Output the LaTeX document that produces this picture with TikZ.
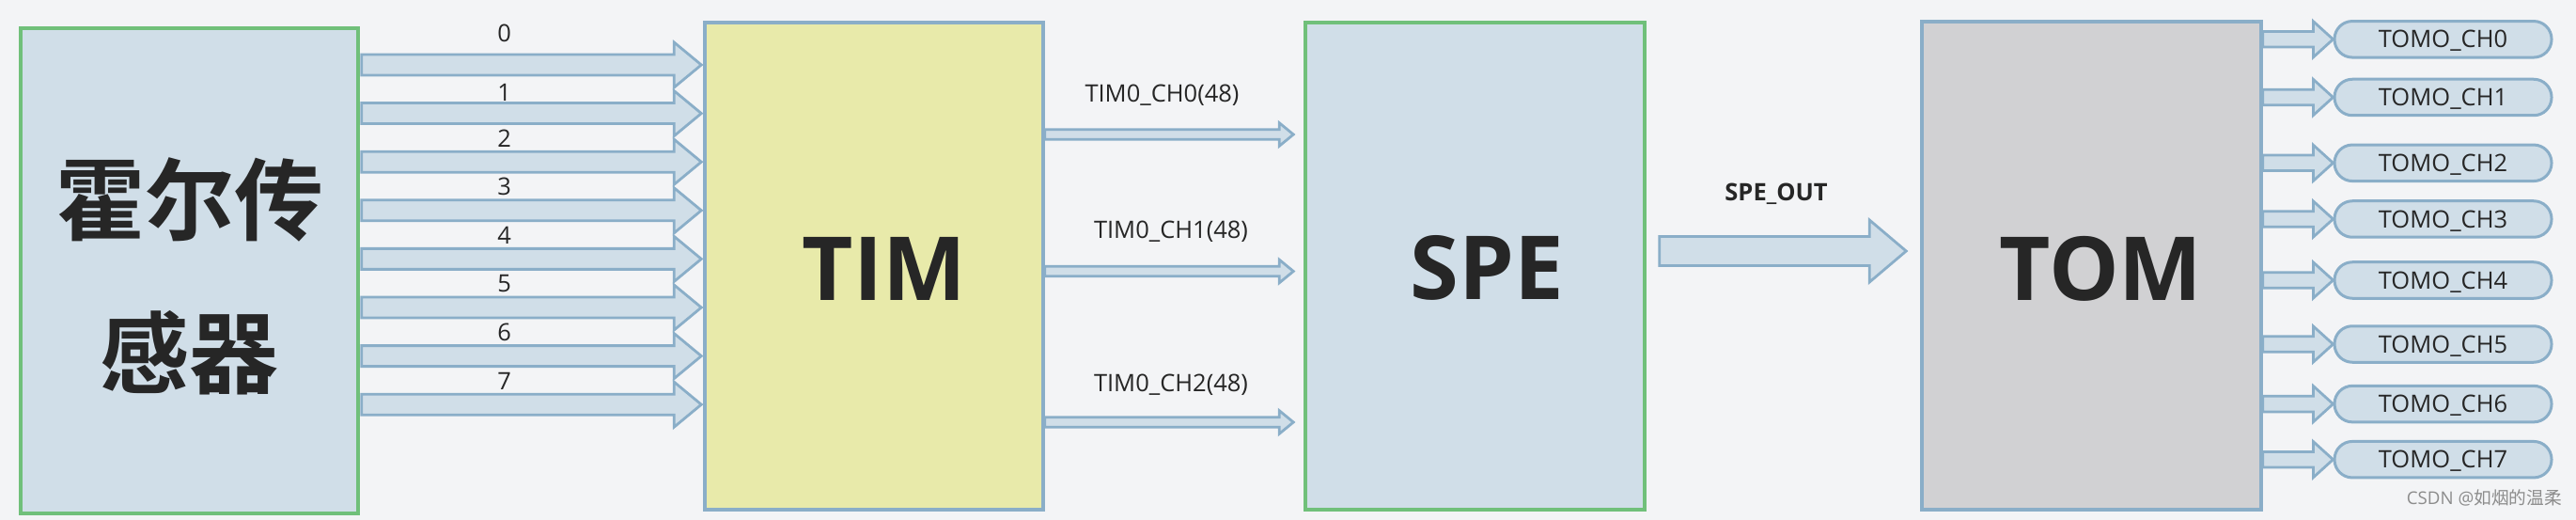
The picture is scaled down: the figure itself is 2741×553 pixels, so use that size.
\documentclass[tikz,border=0pt]{standalone}
\usepackage{fontspec}
\setmainfont{Open Sans}
\newfontfamily\cjk{Noto Sans CJK SC}[BoldFont={Noto Sans CJK SC Bold}]
\usetikzlibrary{calc}

\definecolor{bgcol}{RGB}{243,244,246}
\definecolor{boxblue}{RGB}{208,222,232}
\definecolor{lineblue}{RGB}{138,174,200}
\definecolor{boxgreen}{RGB}{112,192,122}
\definecolor{boxyellow}{RGB}{232,234,170}
\definecolor{boxgray}{RGB}{209,209,211}
\definecolor{textdark}{RGB}{38,38,38}
\definecolor{markgray}{RGB}{140,140,140}

\newcommand{\fatarrow}[5]{%
  \filldraw[arrowline] ($(#1)+(0,-#3)$) -- ($(#2)+(-#5,-#3)$) -- ($(#2)+(-#5,-#4)$) -- (#2)
    -- ($(#2)+(-#5,#4)$) -- ($(#2)+(-#5,#3)$) -- ($(#1)+(0,#3)$) -- cycle;}

\begin{document}
\begin{tikzpicture}[x=1pt, y=-1pt,
  box/.style={draw=lineblue, line width=3.5pt, inner sep=0pt},
  arrowline/.style={draw=lineblue, fill=boxblue, line width=2.8pt, line join=miter},
  chbox/.style={draw=lineblue, fill=boxblue, line width=3pt, rounded corners=19pt, minimum width=231pt, minimum height=38.5pt, text height=18.3pt, text depth=0pt, font=\fontsize{25.5}{30}\selectfont, text=textdark},
  bus/.style={font=\fontsize{25.5}{30}\selectfont, text=textdark, inner sep=0pt},
  big/.style={font=\fontsize{94}{94}\selectfont\bfseries, text=textdark, inner sep=0pt}]
  \fill[bgcol] (0,0) rectangle (2741,553);

  \node[box, draw=boxgreen, fill=boxblue, minimum width=359pt, minimum height=516pt] (sensor) at (201.5,288) {};
  \node[box, fill=boxyellow, minimum width=360pt, minimum height=518pt] (tim) at (930,283) {};
  \node[box, draw=boxgreen, fill=boxblue, minimum width=361pt, minimum height=518pt] (spe) at (1569.5,283) {};
  \node[box, fill=boxgray, minimum width=361pt, minimum height=519pt] (tom) at (2225.5,282.5) {};

  \node[font=\cjk\bfseries\fontsize{95}{163}\selectfont, text=textdark, align=center, inner sep=0pt] (sensorname) at (201.5,293.5) {霍尔传\\感器};
  \node[big] (timname) at (941,286) {TIM};
  \node[big] (spename) at (1582,285) {SPE};
  \node[big] (tomname) at (2235.5,286) {TOM};

  \foreach \i/\ly in {0/35.7,1/98,2/147,3/198,4/250,5/302,6/353.6,7/405}{
    \pgfmathsetmacro\y{69+51.6*\i}
    \coordinate (s\i) at ($(sensor.east |- 0,\y)+(2,0)$);
    \coordinate (t\i) at ($(tim.west |- 0,\y)+(-2,0)$);
    \fatarrow{s\i}{t\i}{11}{24}{29}
    \node[bus] (in\i) at (536.7,\ly) {\i};
  }

  \foreach \i/\y/\lx/\ly in {0/143/1236.5/109,1/288.5/1246/254,2/449/1246/416}{
    \coordinate (a\i) at (tim.east |- 0,\y);
    \coordinate (b\i) at ($(spe.west |- 0,\y)+(-11,0)$);
    \fatarrow{a\i}{b\i}{5.3}{12.3}{15}
    \node[bus, anchor=base] (ch\i) at (\lx,\ly) {TIM0\_CH\i(48)};
  }

  \coordinate (o1) at ($(spe.east |- 0,267)+(14,0)$);
  \coordinate (o2) at ($(tom.west |- 0,267)+(-15,0)$);
  \fatarrow{o1}{o2}{15.5}{33}{39}
  \node[bus, anchor=base, font=\bfseries\fontsize{25.5}{30}\selectfont] (speout) at (1890,213.4) {SPE\_OUT};

  \foreach \i/\y in {0/41.8,1/103.5,2/173.3,3/233,4/298,5/366,6/429.6,7/488.7}{
    \node[chbox] (tomo\i) at (2599.5,\y) {TOMO\_CH\i};
    \coordinate (c\i) at (tom.east |- tomo\i.west);
    \fatarrow{c\i}{tomo\i.west}{8.3}{19}{21}
  }

  \node[text=markgray, font=\fontsize{18.7}{22}\selectfont, anchor=base east, inner sep=0pt] (mark) at (2726,536) {CSDN @{\cjk 如烟的温柔}};
\end{tikzpicture}
\end{document}
